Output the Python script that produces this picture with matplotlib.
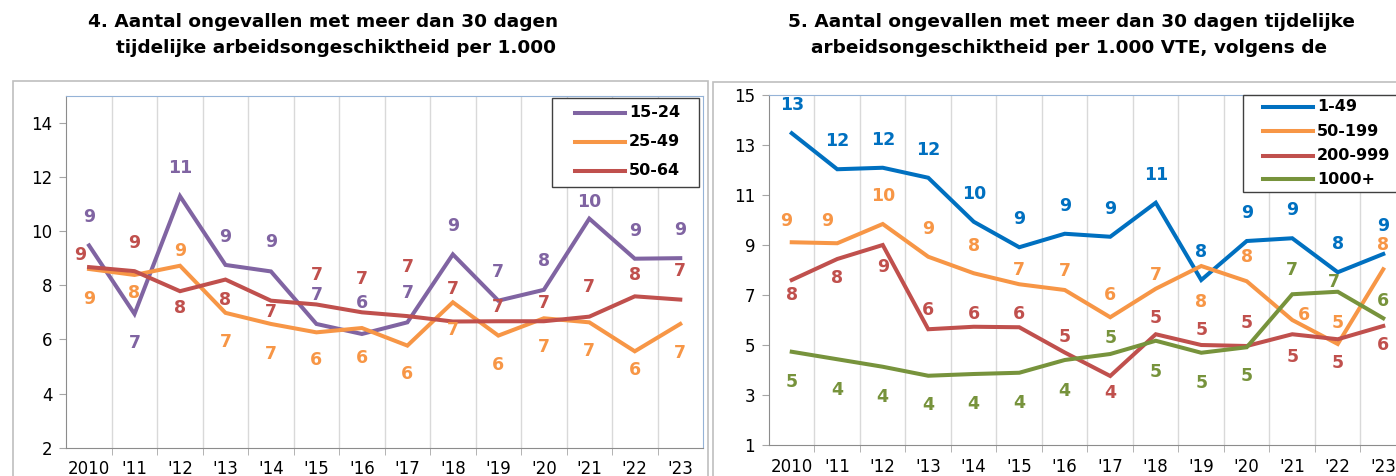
import matplotlib.pyplot as plt
from matplotlib.lines import Line2D
from matplotlib.patches import Rectangle

years = ["2010", "'11", "'12", "'13", "'14", "'15", "'16",
         "'17", "'18", "'19", "'20", "'21", "'22", "'23"]

# grafiek 4: per leeftijdsgroep
age_names = ["15-24", "25-49", "50-64"]
age_15_24 = [9.47, 6.94, 11.29, 8.75, 8.51, 6.57, 6.2, 6.63, 9.14, 7.43, 7.83, 10.46, 8.98, 9.0]
age_25_49 = [8.6, 8.38, 8.72, 6.98, 6.57, 6.26, 6.42, 5.77, 7.37, 6.14, 6.78, 6.63, 5.56, 6.57]
age_50_64 = [8.67, 8.52, 7.78, 8.21, 7.43, 7.29, 7.0, 6.86, 6.66, 6.67, 6.67, 6.84, 7.59, 7.47]

# grafiek 5: per bedrijfsgrootte
size_names = ["1-49", "50-199", "200-999", "1000+"]
size_1_49 = [13.47, 12.03, 12.09, 11.69, 9.93, 8.91, 9.45, 9.33, 10.69, 7.6, 9.16, 9.27, 7.91, 8.64]
size_50_199 = [9.11, 9.07, 9.84, 8.53, 7.87, 7.43, 7.2, 6.11, 7.25, 8.16, 7.55, 6.0, 5.04, 8.03]
size_200_999 = [7.6, 8.44, 9.0, 5.63, 5.73, 5.71, 4.7, 3.76, 5.43, 5.0, 4.96, 5.43, 5.23, 5.76]
size_1000 = [4.73, 4.43, 4.13, 3.77, 3.84, 3.89, 4.4, 4.64, 5.17, 4.69, 4.91, 7.03, 7.13, 6.07]

# label placement (pixels, positive = lower on screen)
age_dy = [
    [-28, 29, -28, -28, -29, -29, -31, -29, -28, -29, -29, -17, -28, -28],
    [30, 18, -15, 29, 30, 28, 30, 28, 28, 29, 29, 29, 19, 29],
    [-12, -28, 17, 20, 11, -29, -33, -49, -33, -14, -18, -30, -21, -29],
]
size_dy = [
    [-28] * 14,
    [-21, -22, -28, -28, -27, -14, -19, -22, -14, 36, -24, -5, -21, -24],
    [15, 19, 22, -19, -13, -13, -15, 17, -16, -15, -23, 23, 24, 19],
    [30, 31, 30, 29, 30, 30, 31, -16, 31, 30, 29, -24, -10, -17],
]
age_dx = {(2, 0): -9}
size_dx = {(1, 11): 12, (3, 12): -4, (1, 0): -6, (1, 1): -10}

age_colors = ["#8064A2", "#F79646", "#C0504D"]
size_colors = ["#0070C0", "#F79646", "#C0504D", "#77933C"]

W, H = 1396, 476
fig = plt.figure(figsize=(W / 100, H / 100), dpi=100)


def fx(x):
    return x / W


def fy(y):
    return 1 - y / H


def px_axes(x0, y0, x1, y1):
    return fig.add_axes([fx(x0), fy(y1), (x1 - x0) / W, (y1 - y0) / H])


# chart frames
fig.patches.append(Rectangle((fx(13), -0.1), (708 - 13) / W, 1.1 - 81 / H,
                             transform=fig.transFigure, fill=False,
                             edgecolor="#BFBFBF", lw=1.2))
fig.patches.append(Rectangle((fx(713), -0.1), 0.5, 1.1 - 82 / H,
                             transform=fig.transFigure, fill=False,
                             edgecolor="#BFBFBF", lw=1.2))


def style_axes(ax, ymin, ymax, ticks):
    ax.set_xlim(-0.5, len(years) - 0.5)
    ax.set_ylim(ymin, ymax)
    ax.set_xticks(list(range(len(years))))
    ax.set_xticklabels(years, fontsize=12)
    ax.set_xticks([i + 0.5 for i in range(len(years) - 1)], minor=True)
    ax.tick_params(axis="x", which="major", length=0, pad=9)
    ax.tick_params(axis="x", which="minor", length=5, color="#A6A6A6")
    ax.set_yticks(ticks)
    ax.tick_params(axis="y", length=5, color="#A6A6A6", labelsize=12, pad=5)
    ax.grid(axis="x", which="minor", color="#D9D9D9", lw=1)
    ax.set_axisbelow(True)
    for s in ["top", "right"]:
        ax.spines[s].set_color("#95B3D7")
    for s in ["left", "bottom"]:
        ax.spines[s].set_color("#8C8C8C")


def draw(ax, series, colors, dys, dxs):
    x = range(len(years))
    for k, (vals, col) in enumerate(zip(series, colors)):
        ax.plot(x, vals, color=col, lw=2.9, solid_joinstyle="miter")
        for i, v in enumerate(vals):
            ax.annotate(f"{v:.0f}", (i, v), xytext=(dxs.get((k, i), 0), -dys[k][i]),
                        textcoords="offset pixels", ha="center", va="center",
                        color=col, fontsize=12.5, fontweight="bold")


def legend_box(box, names, colors, rows, hx0, hx1, tx):
    x0, y0, x1, y1 = box
    fig.patches.append(Rectangle((fx(x0), fy(y1)), (x1 - x0) / W, (y1 - y0) / H,
                                 transform=fig.transFigure, facecolor="white",
                                 edgecolor="#404040", lw=1, zorder=5))
    for name, col, ry in zip(names, colors, rows):
        fig.lines.append(Line2D([fx(hx0), fx(hx1)], [fy(ry), fy(ry)],
                                transform=fig.transFigure, color=col, lw=2.9,
                                zorder=6))
        fig.text(fx(tx), fy(ry), name, ha="left", va="center", fontsize=11.5,
                 fontweight="bold", zorder=6)


ax1 = px_axes(66.3, 95.7, 703, 447.7)
style_axes(ax1, 2, 15, [2, 4, 6, 8, 10, 12, 14])
draw(ax1, [age_15_24, age_25_49, age_50_64], age_colors, age_dy, age_dx)
legend_box((551.7, 98.3, 699.3, 186.7), age_names, age_colors,
           [112.7, 141.7, 170.7], 575, 625, 629)

ax2 = px_axes(769, 95, 1406, 445)
style_axes(ax2, 1, 15, [1, 3, 5, 7, 9, 11, 13, 15])
draw(ax2, [size_1_49, size_50_199, size_200_999, size_1000], size_colors,
     size_dy, size_dx)
legend_box((1243.3, 95, 1400, 191.7), size_names, size_colors,
           [106.7, 131, 155.7, 179.3], 1262.7, 1312.7, 1316.7)

# titles
tkw = dict(fontsize=13.3, fontweight="bold", va="center", ha="center",
           transform=fig.transFigure)
fig.text(fx(323), fy(22), "4. Aantal ongevallen met meer dan 30 dagen", **tkw)
fig.text(fx(335.5), fy(48), "tijdelijke arbeidsongeschiktheid per 1.000", **tkw)
fig.text(fx(1071), fy(22), "5. Aantal ongevallen met meer dan 30 dagen tijdelijke", **tkw)
fig.text(fx(1069), fy(48), "arbeidsongeschiktheid per 1.000 VTE, volgens de", **tkw)

fig.savefig("out.png", dpi=100)
